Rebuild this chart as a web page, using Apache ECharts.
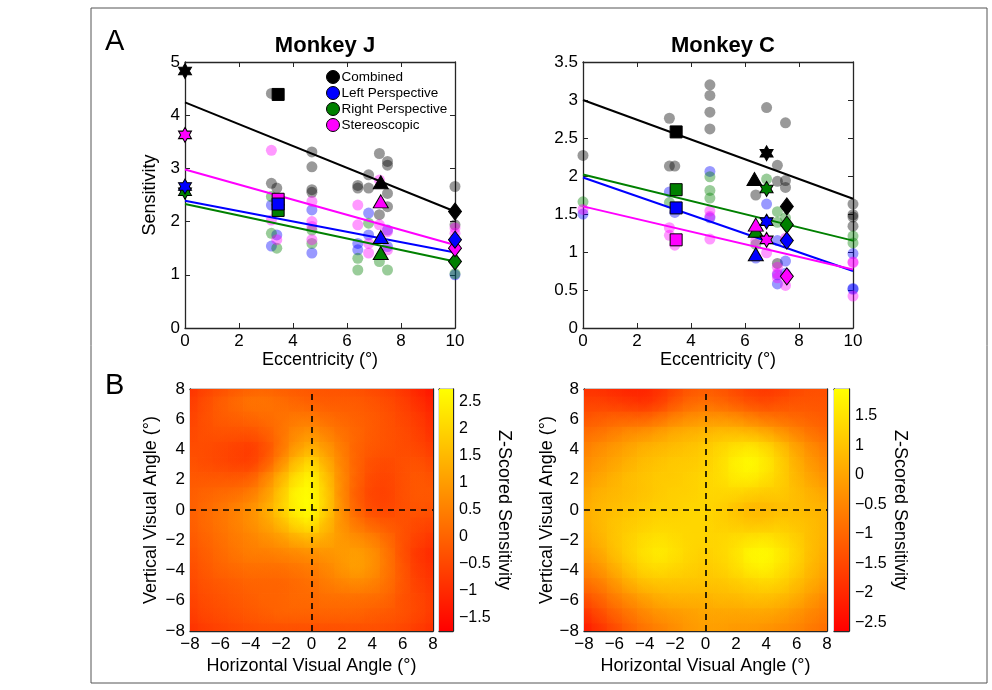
<!DOCTYPE html>
<html><head><meta charset="utf-8">
<script src="https://cdn.jsdelivr.net/npm/echarts@6/dist/echarts.min.js"></script>
<style>html,body{margin:0;padding:0;background:#fff}#c{width:992px;height:690px}</style>
</head><body><div id="c"></div><script>
// ---------------- DATA ----------------
const conditions = ['Combined', 'Left Perspective', 'Right Perspective', 'Stereoscopic'];

// Monkey J : individual sites (faded circles)
const jCombinedSites = [[3.2,4.41],[3.2,2.72],[3.4,2.63],[4.7,3.31],[4.7,3.03],[4.7,2.6],[4.7,2.55],[6.4,2.68],[6.4,2.63],[6.8,2.88],[6.8,2.63],[7.2,3.28],[7.2,2.13],[7.5,3.13],[7.5,3.06],[7.5,2.53],[7.5,2.28],[10,2.66],[10,1.94]];
const jLeftSites = [[3.2,2.31],[3.2,1.54],[3.4,1.75],[4.7,2.22],[4.7,1.41],[6.4,1.59],[6.4,1.47],[6.8,2.16],[6.8,1.75],[7.5,1.84],[7.5,1.53],[10,1.0]];
const jRightSites = [[3.2,2.47],[3.2,1.78],[3.4,1.5],[4.7,1.84],[4.7,1.59],[6.4,1.31],[6.4,1.09],[6.8,1.97],[7.2,1.25],[7.5,1.09],[10,1.02]];
const jStereoSites = [[3.2,3.34],[3.2,2.03],[3.4,1.66],[4.7,2.38],[4.7,2.0],[4.7,1.91],[4.7,1.66],[6.4,2.31],[6.4,1.94],[6.8,1.59],[6.8,1.41],[7.2,2.78],[7.2,1.94],[7.5,1.81],[7.5,1.47],[10,1.78],[10,1.88]];
// Monkey J : means per eccentricity [x, y, marker]
const jCombinedMeans = [[0,4.83,'star'],[3.45,4.39,'square'],[7.25,2.74,'triangle'],[10,2.19,'diamond']];
const jLeftMeans = [[0,2.66,'star'],[3.45,2.33,'square'],[7.25,1.71,'triangle'],[10,1.66,'diamond']];
const jRightMeans = [[0,2.56,'star'],[3.45,2.21,'square'],[7.25,1.41,'triangle'],[10,1.25,'diamond']];
const jStereoMeans = [[0,3.63,'star'],[3.45,2.42,'square'],[7.25,2.38,'triangle'],[10,1.5,'diamond']];
// Monkey J : regression fits (end points)
const jFitCombined = [[0,4.24],[10,2.19]];
const jFitLeft = [[0,2.39],[10,1.42]];
const jFitRight = [[0,2.33],[10,1.25]];
const jFitStereo = [[0,2.98],[10,1.56]];

// Monkey C : individual sites
const cCombinedSites = [[0,2.27],[3.2,2.76],[3.2,2.13],[3.4,2.13],[4.7,3.2],[4.7,3.06],[4.7,2.84],[4.7,2.62],[6.4,1.75],[6.8,2.9],[7.2,2.14],[7.2,1.93],[7.2,0.85],[7.5,2.7],[7.5,1.94],[7.5,1.85],[10,1.63],[10,1.49],[10,1.46],[10,1.34]];
const cLeftSites = [[0,1.5],[3.2,1.79],[3.4,1.52],[4.7,2.06],[4.7,1.45],[6.4,0.92],[6.8,1.63],[7.2,1.15],[7.2,0.7],[7.2,0.58],[7.5,0.88],[7.5,0.72],[10,0.98],[10,0.51],[10,0.52]];
const cRightSites = [[0,1.66],[3.2,1.65],[4.7,1.99],[4.7,1.81],[4.7,1.71],[6.4,1.1],[6.8,1.96],[7.2,1.53],[7.2,1.39],[7.5,1.45],[10,1.21],[10,1.12]];
const cStereoSites = [[0,1.56],[3.2,1.32],[3.2,1.22],[3.4,1.09],[4.7,1.54],[4.7,1.47],[4.7,1.17],[6.4,1.15],[6.8,0.99],[7.2,0.8],[7.2,0.72],[7.2,0.66],[7.5,1.18],[7.5,0.56],[10,0.86],[10,0.87],[10,0.42]];
// Monkey C : means
const cCombinedMeans = [[3.45,2.58,'square'],[6.35,1.96,'triangle'],[6.8,2.3,'star'],[7.55,1.6,'diamond']];
const cLeftMeans = [[3.45,1.58,'square'],[6.4,0.97,'triangle'],[6.8,1.4,'star'],[7.55,1.15,'diamond']];
const cRightMeans = [[3.45,1.82,'square'],[6.4,1.28,'triangle'],[6.8,1.83,'star'],[7.55,1.36,'diamond']];
const cStereoMeans = [[3.45,1.16,'square'],[6.4,1.36,'triangle'],[6.8,1.16,'star'],[7.55,0.68,'diamond']];
// Monkey C : fits
const cFitCombined = [[0,3.0],[10,1.7]];
const cFitLeft = [[0,1.98],[10,0.75]];
const cFitRight = [[0,2.02],[10,1.15]];
const cFitStereo = [[0,1.6],[10,0.77]];

// Heat maps: rows from y=8 (top) to y=-8, columns x=-8..8
const heatX = [-8,-7,-6,-5,-4,-3,-2,-1,0,1,2,3,4,5,6,7,8];
const heatY = [8,7,6,5,4,3,2,1,0,-1,-2,-3,-4,-5,-6,-7,-8];
const jHeatRows = [
 [-0.9,-0.6,-0.4,-0.2,-0.05,0.0,-0.1,-0.2,-0.25,-0.3,-0.3,-0.35,-0.45,-0.6,-0.8,-1.1,-1.4],
 [-0.7,-0.4,-0.1,0.1,0.3,0.3,0.2,0.05,-0.05,-0.15,-0.15,-0.15,-0.25,-0.4,-0.6,-0.9,-1.2],
 [-0.6,-0.35,-0.15,-0.05,0.05,0.15,0.25,0.35,0.35,0.15,0.05,-0.05,-0.15,-0.3,-0.5,-0.7,-1.0],
 [-0.5,-0.35,-0.3,-0.3,-0.3,-0.1,0.25,0.65,0.85,0.55,0.25,0.05,-0.15,-0.3,-0.4,-0.6,-0.9],
 [-0.4,-0.4,-0.5,-0.6,-0.7,-0.4,0.25,0.95,1.35,0.95,0.45,0.0,-0.2,-0.3,-0.4,-0.5,-0.7],
 [-0.3,-0.4,-0.5,-0.6,-0.65,-0.2,0.65,1.6,2.1,1.35,0.6,0.0,-0.35,-0.45,-0.35,-0.3,-0.5],
 [-0.2,-0.2,-0.2,-0.2,-0.1,0.5,1.35,2.2,2.6,1.7,0.7,0.0,-0.45,-0.55,-0.35,-0.2,-0.3],
 [-0.1,0.0,0.1,0.2,0.4,0.9,1.7,2.6,2.74,1.9,0.7,-0.1,-0.55,-0.6,-0.35,-0.2,-0.2],
 [-0.1,0.1,0.3,0.5,0.75,1.2,1.85,2.55,2.74,1.9,0.8,0.0,-0.45,-0.55,-0.35,-0.25,-0.3],
 [-0.1,0.1,0.3,0.5,0.75,1.05,1.5,2.1,2.4,1.6,0.85,0.35,0.0,-0.2,-0.3,-0.45,-0.55],
 [-0.2,0.0,0.2,0.4,0.55,0.75,0.95,1.3,1.5,1.25,0.95,0.75,0.55,0.15,-0.3,-0.6,-0.8],
 [-0.3,-0.1,0.1,0.3,0.45,0.45,0.55,0.65,0.75,0.85,0.95,1.05,0.85,0.35,-0.3,-0.8,-1.0],
 [-0.4,-0.2,0.0,0.1,0.2,0.2,0.2,0.3,0.4,0.6,0.85,1.05,0.85,0.35,-0.2,-0.7,-0.9],
 [-0.5,-0.3,-0.2,-0.1,0.0,0.0,0.0,0.1,0.2,0.4,0.55,0.65,0.55,0.25,-0.2,-0.6,-0.8],
 [-0.6,-0.4,-0.3,-0.2,-0.1,0.0,0.0,0.1,0.1,0.2,0.2,0.2,0.15,0.05,-0.3,-0.5,-0.7],
 [-0.7,-0.5,-0.4,-0.3,-0.2,-0.1,0.0,0.0,0.0,0.0,0.0,0.0,-0.1,-0.2,-0.3,-0.5,-0.7],
 [-0.9,-0.7,-0.6,-0.5,-0.4,-0.35,-0.35,-0.35,-0.35,-0.35,-0.35,-0.35,-0.35,-0.4,-0.5,-0.7,-0.9]
];
const cHeatRows = [
 [-1.9,-1.9,-2.0,-2.1,-2.1,-1.9,-1.6,-1.3,-1.2,-1.3,-1.5,-1.7,-1.8,-1.7,-1.5,-1.4,-1.4],
 [-1.6,-1.6,-1.7,-1.8,-1.9,-1.7,-1.3,-1.0,-0.9,-1.0,-1.2,-1.4,-1.5,-1.4,-1.3,-1.3,-1.3],
 [-1.3,-1.2,-1.1,-1.1,-1.1,-0.9,-0.6,-0.4,-0.3,-0.3,-0.4,-0.6,-0.8,-0.9,-1.0,-1.1,-1.2],
 [-0.9,-0.8,-0.6,-0.4,-0.3,-0.1,0.1,0.2,0.3,0.4,0.4,0.3,0.1,-0.2,-0.5,-0.8,-1.0],
 [-0.6,-0.4,-0.2,0.0,0.2,0.3,0.4,0.5,0.6,0.8,1.0,1.1,0.9,0.5,0.0,-0.4,-0.7],
 [-0.4,-0.2,0.0,0.2,0.4,0.5,0.6,0.6,0.7,0.9,1.25,1.4,1.15,0.7,0.2,-0.2,-0.5],
 [-0.2,0.0,0.2,0.4,0.5,0.6,0.6,0.7,0.8,0.9,1.15,1.2,1.0,0.7,0.3,0.0,-0.3],
 [0.0,0.2,0.3,0.4,0.5,0.6,0.7,0.7,0.8,0.8,0.8,0.7,0.6,0.6,0.4,0.2,0.0],
 [0.1,0.3,0.4,0.5,0.6,0.7,0.7,0.8,0.8,0.7,0.5,0.3,0.3,0.4,0.4,0.3,0.2],
 [0.1,0.3,0.5,0.6,0.7,0.8,0.8,0.8,0.8,0.7,0.6,0.5,0.5,0.6,0.5,0.4,0.2],
 [0.0,0.2,0.5,0.7,0.9,1.0,0.9,0.8,0.8,0.8,0.9,1.0,1.05,0.9,0.7,0.4,0.2],
 [-0.2,0.0,0.4,0.7,1.0,1.15,1.0,0.8,0.7,0.8,1.0,1.35,1.4,1.15,0.8,0.4,0.1],
 [-0.5,-0.3,0.1,0.5,0.8,0.9,0.8,0.7,0.6,0.7,0.9,1.15,1.25,1.0,0.7,0.3,0.0],
 [-0.9,-0.7,-0.3,0.1,0.4,0.5,0.5,0.5,0.5,0.5,0.6,0.7,0.8,0.7,0.4,0.1,-0.2],
 [-1.4,-1.1,-0.7,-0.4,-0.1,0.1,0.2,0.2,0.2,0.3,0.3,0.4,0.4,0.3,0.1,-0.2,-0.5],
 [-1.9,-1.5,-1.1,-0.8,-0.5,-0.3,-0.2,-0.1,0.0,0.0,0.0,0.0,0.0,-0.1,-0.3,-0.5,-0.7],
 [-2.3,-1.9,-1.5,-1.1,-0.8,-0.6,-0.4,-0.2,-0.1,-0.1,-0.2,-0.2,-0.3,-0.4,-0.5,-0.7,-0.9]
];
const jColorRange = [-1.74, 2.74];
const cColorRange = [-2.65, 1.46];
const jBarTickValues = [2.5, 2, 1.5, 1, 0.5, 0, -0.5, -1, -1.5];
const jBarTickLabels = ['2.5', '2', '1.5', '1', '0.5', '0', '\u22120.5', '\u22121', '\u22121.5'];
const cBarTickValues = [1, 0.5, 0, -0.5, -1, -1.5, -2, -2.5];
const cBarTickLabels = ['1.5', '1', '0', '\u22120.5', '\u22121', '\u22121.5', '\u22122', '\u22122.5'];

// ---------------- STYLE / BUILD ----------------
const FONT = "'Liberation Sans', Arial, Helvetica, sans-serif";
const AX = '#262626';
const COLORS = ['#000000', '#0000ff', '#008000', '#ff00ff'];
const SYM = {
  star: 'path://M1000,0L1289,500L1866,500L1577,1000L1866,1500L1289,1500L1000,2000L711,1500L134,1500L423,1000L134,500L711,500Z',
  square: 'rect', triangle: 'triangle', diamond: 'diamond'
};
const SYMSIZE = { star: [13, 15], square: [12, 12], triangle: [15, 13], diamond: [13, 17] };
const minus = v => String(v).replace('-', '\u2212');

const grids = [
  { left: 185, top: 62, width: 270, height: 266 },   // 0 J scatter
  { left: 583, top: 62, width: 270, height: 266 },   // 1 C scatter
  { left: 190, top: 389, width: 243, height: 242 },  // 2 J heat
  { left: 439, top: 389, width: 14, height: 242 },   // 3 J colorbar
  { left: 584, top: 389, width: 243, height: 242 },  // 4 C heat
  { left: 834, top: 389, width: 15, height: 242 }    // 5 C colorbar
].map(g => Object.assign({ containLabel: false, outerBoundsMode: 'none' }, g));

const xAxis = [], yAxis = [];
function axisPair(list, gi, o, dirMain, dirSec) {
  const base = {
    type: 'value', gridIndex: gi, min: o.min, max: o.max, splitLine: { show: false },
    axisLine: { show: true, onZero: false, lineStyle: { color: AX, width: 1.3 } }
  };
  if (o.interval != null) base.interval = o.interval;
  list.push(Object.assign({}, base, {
    position: dirMain,
    name: o.name || '', nameLocation: 'middle', nameGap: o.nameGap || 20,
    nameTextStyle: { fontFamily: FONT, fontSize: 18, color: '#000' },
    axisTick: { show: o.ticks !== false, inside: true, length: 5, lineStyle: { color: AX, width: 1 } },
    axisLabel: { show: !!o.labels, fontFamily: FONT, fontSize: o.fs || 17, color: '#000', margin: o.margin || 5, formatter: o.fmt }
  }));
  list.push(Object.assign({}, base, {
    position: dirSec,
    axisTick: { show: o.ticks !== false, inside: true, length: 5, lineStyle: { color: AX, width: 1 } },
    axisLabel: { show: false }
  }));
}
axisPair(xAxis, 0, { min: 0, max: 10, interval: 2, labels: true, name: 'Eccentricity (\u00b0)', nameGap: 21 }, 'bottom', 'top');
axisPair(yAxis, 0, { min: 0, max: 5, interval: 1, labels: true, name: 'Sensitivity', nameGap: 26 }, 'left', 'right');
axisPair(xAxis, 1, { min: 0, max: 10, interval: 2, labels: true, name: 'Eccentricity (\u00b0)', nameGap: 21 }, 'bottom', 'top');
axisPair(yAxis, 1, { min: 0, max: 3.5, interval: 0.5, labels: true }, 'left', 'right');
axisPair(xAxis, 2, { min: -8, max: 8, interval: 2, labels: true, fmt: minus, name: 'Horizontal Visual Angle (\u00b0)', nameGap: 26 }, 'bottom', 'top');
axisPair(yAxis, 2, { min: -8, max: 8, interval: 2, labels: true, fmt: minus, name: 'Vertical Visual Angle (\u00b0)', nameGap: 30 }, 'left', 'right');
axisPair(xAxis, 3, { min: 0, max: 1, ticks: false }, 'bottom', 'top');
axisPair(yAxis, 3, { min: jColorRange[0], max: jColorRange[1], ticks: false }, 'left', 'right');
axisPair(xAxis, 4, { min: -8, max: 8, interval: 2, labels: true, fmt: minus, name: 'Horizontal Visual Angle (\u00b0)', nameGap: 26 }, 'bottom', 'top');
axisPair(yAxis, 4, { min: -8, max: 8, interval: 2, labels: true, fmt: minus, name: 'Vertical Visual Angle (\u00b0)', nameGap: 28 }, 'left', 'right');
axisPair(xAxis, 5, { min: 0, max: 1, ticks: false }, 'bottom', 'top');
axisPair(yAxis, 5, { min: cColorRange[0], max: cColorRange[1], ticks: false }, 'left', 'right');

function barLabels(axis, values, labels, gap) {
  axis.axisLabel = {
    show: true, fontFamily: FONT, fontSize: 16, color: '#000', margin: 6,
    customValues: values,
    formatter: v => { const i = values.findIndex(t => Math.abs(t - v) < 1e-6); return i >= 0 ? labels[i] : ''; }
  };
  axis.axisTick = { show: true, inside: true, length: 3, customValues: values, lineStyle: { color: AX } };
  axis.name = 'Z-Scored Sensitivity'; axis.nameLocation = 'middle'; axis.nameRotate = -90; axis.nameGap = gap;
  axis.nameTextStyle = { fontFamily: FONT, fontSize: 18, color: '#000' };
}
barLabels(yAxis[7], jBarTickValues, jBarTickLabels, 36);
barLabels(yAxis[11], cBarTickValues, cBarTickLabels, 38);

const series = [];
function add(s) { series.push(s); return series.length - 1; }

function scatterPanel(gi, sites, means, fits, named) {
  const ax = gi * 2;
  sites.forEach((d, i) => add({
    type: 'scatter', xAxisIndex: ax, yAxisIndex: ax, data: d, symbol: 'circle', symbolSize: 11,
    itemStyle: { color: COLORS[i], opacity: 0.4 }, silent: true, z: 2
  }));
  [2, 1, 3, 0].forEach(i => add({
    type: 'line', name: named ? conditions[i] : undefined, xAxisIndex: ax, yAxisIndex: ax, data: fits[i],
    symbol: 'none', lineStyle: { color: COLORS[i], width: 2 }, itemStyle: { color: COLORS[i] }, silent: true, z: 3
  }));
  [2, 3, 1, 0].forEach(i => add({
    type: 'scatter', xAxisIndex: ax, yAxisIndex: ax, data: means[i], encode: { x: 0, y: 1 },
    symbol: v => SYM[v[2]], symbolSize: v => SYMSIZE[v[2]],
    itemStyle: { color: COLORS[i], borderColor: '#000', borderWidth: 1, opacity: 1 }, silent: true, z: 4
  }));
}
scatterPanel(0, [jCombinedSites, jLeftSites, jRightSites, jStereoSites],
  [jCombinedMeans, jLeftMeans, jRightMeans, jStereoMeans],
  [jFitCombined, jFitLeft, jFitRight, jFitStereo], true);
scatterPanel(1, [cCombinedSites, cLeftSites, cRightSites, cStereoSites],
  [cCombinedMeans, cLeftMeans, cRightMeans, cStereoMeans],
  [cFitCombined, cFitLeft, cFitRight, cFitStereo], false);

function heatData(rows) {
  const out = [];
  rows.forEach((r, yi) => r.forEach((v, xi) => out.push([heatX[xi], heatY[yi], v])));
  return out;
}
function csRect(params) {
  const cs = params.coordSys;
  return { x: cs.x, y: cs.y, width: cs.width, height: cs.height };
}
function heatRender(params, api) {
  const x = api.value(0), y = api.value(1);
  const p0 = api.coord([x - 0.5, y + 0.5]);
  const p1 = api.coord([x + 0.5, y - 0.5]);
  const r = echarts.graphic.clipRectByRect(
    { x: p0[0], y: p0[1], width: p1[0] - p0[0] + 0.7, height: p1[1] - p0[1] + 0.7 }, csRect(params));
  if (!r) return;
  return { type: 'rect', shape: r, style: { fill: api.visual('color') } };
}
// soft overlay: each cell's colour feathered over its neighbours to hide the cell edges
function softRender(params, api) {
  const x = api.value(0), y = api.value(1);
  const c = api.coord([x, y]);
  const e = api.coord([x + 1.35, y]);
  const col = api.visual('color');
  return {
    type: 'circle', shape: { cx: c[0], cy: c[1], r: Math.abs(e[0] - c[0]) },
    style: { fill: new echarts.graphic.RadialGradient(0.5, 0.5, 0.5, [
      { offset: 0, color: echarts.color.modifyAlpha(col, 0.6) },
      { offset: 0.4, color: echarts.color.modifyAlpha(col, 0.35) },
      { offset: 1, color: echarts.color.modifyAlpha(col, 0) }]) },
    clipPath: { type: 'rect', shape: csRect(params) }
  };
}
function cbRender(params, api) {
  const lo = api.coord([0, api.value(1)]);
  const hi = api.coord([1, api.value(2)]);
  return {
    type: 'rect', shape: { x: lo[0], y: hi[1], width: hi[0] - lo[0], height: lo[1] - hi[1] },
    style: { fill: new echarts.graphic.LinearGradient(0, 0, 0, 1, [{ offset: 0, color: '#ffff00' }, { offset: 1, color: '#ff0000' }]) }
  };
}
function heatPanel(gi, rows, range) {
  const ax = gi * 2;
  const data = heatData(rows);
  const idx = add({
    type: 'custom', xAxisIndex: ax, yAxisIndex: ax, data, encode: { x: 0, y: 1 },
    renderItem: heatRender, silent: true, z: 1
  });
  add({
    type: 'custom', xAxisIndex: ax, yAxisIndex: ax, data, encode: { x: 0, y: 1 },
    renderItem: softRender, silent: true, z: 2
  });
  add({
    type: 'line', xAxisIndex: ax, yAxisIndex: ax, data: [[0, 0]], symbol: 'none', lineStyle: { opacity: 0 }, silent: true, z: 5,
    markLine: {
      symbol: ['none', 'none'], silent: true, label: { show: false }, animation: false,
      lineStyle: { color: '#000', type: [6, 5], width: 1.6 },
      data: [{ xAxis: 0 }, { yAxis: 0 }]
    }
  });
  const cbAx = (gi + 1) * 2;
  add({
    type: 'custom', xAxisIndex: cbAx, yAxisIndex: cbAx, data: [[0, range[0], range[1]]],
    encode: { x: 0, y: [1, 2] }, renderItem: cbRender, silent: true
  });
  return idx;
}
const jHeatIdx = heatPanel(2, jHeatRows, jColorRange);
const cHeatIdx = heatPanel(4, cHeatRows, cColorRange);

const option = {
  animation: false,
  backgroundColor: '#fff',
  textStyle: { fontFamily: FONT },
  grid: grids, xAxis, yAxis, series,
  visualMap: [
    { type: 'continuous', show: false, seriesIndex: [jHeatIdx, jHeatIdx + 1], dimension: 2, min: jColorRange[0], max: jColorRange[1], inRange: { color: ['#ff0000', '#ffff00'] } },
    { type: 'continuous', show: false, seriesIndex: [cHeatIdx, cHeatIdx + 1], dimension: 2, min: cColorRange[0], max: cColorRange[1], inRange: { color: ['#ff0000', '#ffff00'] } }
  ],
  title: [
    { text: 'Monkey J', left: 320, top: 30, textAlign: 'center', textStyle: { fontFamily: FONT, fontSize: 22, fontWeight: 'bold', color: '#000' } },
    { text: 'Monkey C', left: 718, top: 30, textAlign: 'center', textStyle: { fontFamily: FONT, fontSize: 22, fontWeight: 'bold', color: '#000' } }
  ],
  legend: {
    left: 326, top: 70, orient: 'vertical', itemGap: 2, itemWidth: 13, itemHeight: 13, icon: 'circle',
    selectedMode: false, padding: 0,
    textStyle: { fontFamily: FONT, fontSize: 13.5, color: '#000', padding: [0, 0, 0, -3] },
    data: conditions.map((n, i) => ({ name: n, itemStyle: { color: COLORS[i], borderColor: '#000', borderWidth: 1 } }))
  },
  graphic: [
    { type: 'rect', shape: { x: 91, y: 8, width: 896, height: 675 }, style: { fill: 'none', stroke: '#555', lineWidth: 1 }, silent: true },
    { type: 'text', left: 105, top: 27, style: { text: 'A', font: '29px ' + FONT, fill: '#000' } },
    { type: 'text', left: 105, top: 371, style: { text: 'B', font: '29px ' + FONT, fill: '#000' } }
  ]
};
const chart = echarts.init(document.getElementById('c'), null, { renderer: 'canvas' });
chart.setOption(option);
</script></body></html>
